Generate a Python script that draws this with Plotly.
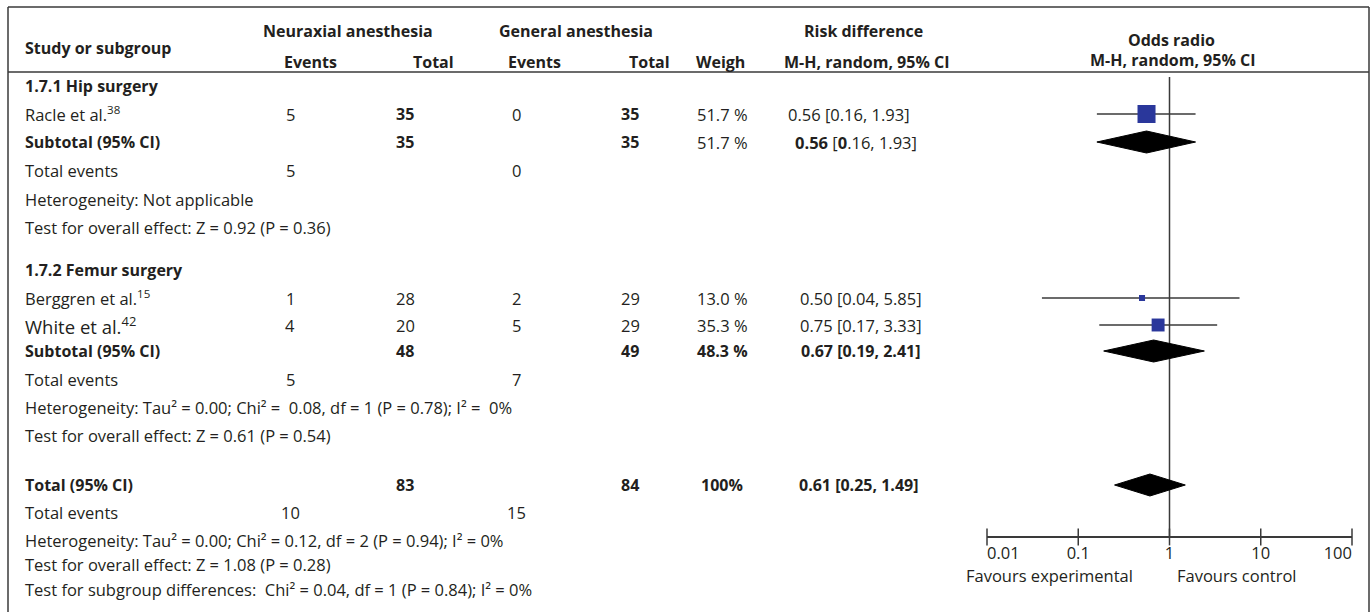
import plotly.graph_objects as go

W, H = 1372, 612
FONT = "Open Sans"
INK = "#231f20"
RULE = "#3a3a3a"

# ---- study-level data ----
study_names = ["Racle et al.<sup>38</sup>", "Berggren et al.<sup>15</sup>", "White et al.<sup>42</sup>"]
study_group = ["hip", "femur", "femur"]
neur_events = [5, 1, 4]
neur_total = [35, 28, 20]
gen_events = [0, 2, 5]
gen_total = [35, 29, 29]
weights = [51.7, 13.0, 35.3]
or_est = [0.56, 0.50, 0.75]
or_lo = [0.16, 0.04, 0.17]
or_hi = [1.93, 5.85, 3.33]

# ---- pooled estimates (hip subtotal, femur subtotal, overall) ----
pooled_names = ["Subtotal (95% CI)", "Subtotal (95% CI)", "Total (95% CI)"]
pooled_neur_total = [35, 48, 83]
pooled_gen_total = [35, 49, 84]
pooled_weight = ["51.7 %", "48.3 %", "100%"]
pooled_est = [0.56, 0.67, 0.61]
pooled_lo = [0.16, 0.19, 0.25]
pooled_hi = [1.93, 2.41, 1.49]
pooled_neur_events = [5, 5, 10]
pooled_gen_events = [0, 7, 15]

heterogeneity = [
    "Heterogeneity: Not applicable",
    "Heterogeneity: Tau² = 0.00; Chi² =  0.08, df = 1 (P = 0.78); I² =  0%",
    "Heterogeneity: Tau² = 0.00; Chi² = 0.12, df = 2 (P = 0.94); I² = 0%",
]
overall_effect = [
    "Test for overall effect: Z = 0.92 (P = 0.36)",
    "Test for overall effect: Z = 0.61 (P = 0.54)",
    "Test for overall effect: Z = 1.08 (P = 0.28)",
]
subgroup_test = "Test for subgroup differences:  Chi² = 0.04, df = 1 (P = 0.84); I² = 0%"

axis_ticks = [0.01, 0.1, 1, 10, 100]
axis_ticklabels = ["0.01", "0.1", "1", "10", "100"]

# ---- layout: row centres (px from top) and column centres (px from left) ----
ROW = {
    "hip_head": 86, "racle": 114, "hip_sub": 142, "hip_ev": 170, "hip_het": 199, "hip_test": 227,
    "fem_head": 270, "berg": 298, "white": 325, "fem_sub": 351, "fem_ev": 379, "fem_het": 407,
    "fem_test": 435, "tot": 485, "tot_ev": 512, "tot_het": 540, "tot_test": 564, "sub_test": 589,
}
study_rows = ["racle", "berg", "white"]
pooled_rows = ["hip_sub", "fem_sub", "tot"]
events_rows = ["hip_ev", "fem_ev", "tot_ev"]
het_rows = ["hip_het", "fem_het", "tot_het"]
test_rows = ["hip_test", "fem_test", "tot_test"]

X_LEFT = 23
X_NE, X_NT, X_GE, X_GT, X_W = 290, 405, 516, 630, 722
study_ci_x = [849, 861, 861]
pooled_ci_x = [856, 861, 859]
study_font = [16.5, 16.5, 18.5]
AXIS_Y = 537
TICKLABEL_Y = 555
SIZE = 16.5
BSIZE = 16

annotations = []


def txt(s, x, y, anchor="center", size=None, bold=False):
    if size is None:
        size = BSIZE if bold else SIZE
    if bold:
        s = f"<b>{s}</b>"
    annotations.append(dict(
        text=s, x=x, y=y, xref="x", yref="y", xanchor=anchor, yanchor="middle",
        showarrow=False, font=dict(family=FONT, size=size, color=INK),
    ))


def ci_text(e, lo, hi):
    return f"{e:.2f} [{lo:.2f}, {hi:.2f}]"


# header
txt("Study or subgroup", X_LEFT, 48, "left", bold=True)
txt("Neuraxial anesthesia", 348, 31, bold=True)
txt("Events", 310, 62, bold=True)
txt("Total", 433, 62, bold=True)
txt("General anesthesia", 576, 31, bold=True)
txt("Events", 534, 62, bold=True)
txt("Total", 649, 62, bold=True)
txt("Weigh", 720, 62, bold=True)
txt("Risk difference", 863, 31, bold=True)
txt("M-H, random, 95% CI", 866, 62, bold=True)
txt("Odds radio", 1171, 40, bold=True)
txt("M-H, random, 95% CI", 1172, 60, bold=True)

# subgroup headings
txt("1.7.1 Hip surgery", X_LEFT, ROW["hip_head"], "left", bold=True)
txt("1.7.2 Femur surgery", X_LEFT, ROW["fem_head"], "left", bold=True)

# individual studies
for i, r in enumerate(study_rows):
    y = ROW[r]
    hip = study_group[i] == "hip"
    txt(study_names[i], X_LEFT, y, "left", size=study_font[i])
    txt(str(neur_events[i]), X_NE, y)
    txt(str(neur_total[i]), X_NT, y, bold=hip)
    txt(str(gen_events[i]), X_GE, y)
    txt(str(gen_total[i]), X_GT, y, bold=hip)
    txt(f"{weights[i]:.1f} %", X_W, y)
    txt(ci_text(or_est[i], or_lo[i], or_hi[i]), study_ci_x[i], y)

# pooled rows
for i, r in enumerate(pooled_rows):
    y = ROW[r]
    txt(pooled_names[i], X_LEFT, y, "left", bold=True)
    txt(str(pooled_neur_total[i]), X_NT, y, bold=True)
    txt(str(pooled_gen_total[i]), X_GT, y, bold=True)
    txt(pooled_weight[i], X_W, y, bold=(i > 0))
    if i == 0:
        lo = f"{pooled_lo[i]:.2f}"
        s = (f"<b>{pooled_est[i]:.2f}</b> [<b>{lo[0]}</b>{lo[1:]}, {pooled_hi[i]:.2f}]")
        txt(s, pooled_ci_x[i], y)
    else:
        txt(ci_text(pooled_est[i], pooled_lo[i], pooled_hi[i]), pooled_ci_x[i], y, bold=True)

for i, r in enumerate(events_rows):
    y = ROW[r]
    txt("Total events", X_LEFT, y, "left")
    txt(str(pooled_neur_events[i]), X_NE, y)
    txt(str(pooled_gen_events[i]), X_GE, y)

for i, r in enumerate(het_rows):
    txt(heterogeneity[i], X_LEFT, ROW[r], "left")
for i, r in enumerate(test_rows):
    txt(overall_effect[i], X_LEFT, ROW[r], "left")
txt(subgroup_test, X_LEFT, ROW["sub_test"], "left")

fig = go.Figure()

# line of no effect
fig.add_trace(go.Scatter(
    x=[1, 1], y=[77, AXIS_Y], xaxis="x2", yaxis="y", mode="lines",
    line=dict(color=RULE, width=1.5), hoverinfo="skip", showlegend=False,
))

# study confidence intervals and weighted squares
for i, r in enumerate(study_rows):
    y = ROW[r]
    fig.add_trace(go.Scatter(
        x=[or_lo[i], or_hi[i]], y=[y, y], xaxis="x2", yaxis="y", mode="lines",
        line=dict(color=RULE, width=1.5), hoverinfo="skip", showlegend=False,
    ))
    fig.add_trace(go.Scatter(
        x=[or_est[i]], y=[y], xaxis="x2", yaxis="y", mode="markers",
        marker=dict(symbol="square", size=2 + 0.31 * weights[i], color="#2a379b",
                    line=dict(width=0)),
        hoverinfo="skip", showlegend=False,
    ))

# pooled diamonds
HALF = 11
for i, r in enumerate(pooled_rows):
    y = ROW[r]
    fig.add_trace(go.Scatter(
        x=[pooled_lo[i], pooled_est[i], pooled_hi[i], pooled_est[i], pooled_lo[i]],
        y=[y, y - HALF, y, y + HALF, y], xaxis="x2", yaxis="y", mode="lines",
        fill="toself", fillcolor="#000000", line=dict(color="#000000", width=1),
        hoverinfo="skip", showlegend=False,
    ))

# tick marks crossing the scale line
fig.add_trace(go.Scatter(
    x=axis_ticks, y=[AXIS_Y] * len(axis_ticks), xaxis="x2", yaxis="y", mode="markers",
    marker=dict(symbol="line-ns", size=12, line=dict(color=RULE, width=1.5)),
    hoverinfo="skip", showlegend=False, cliponaxis=False,
))

# tick labels; the end labels are pulled inside the scale
tick_pos = ["middle right"] + ["middle center"] * (len(axis_ticks) - 2) + ["middle left"]
fig.add_trace(go.Scatter(
    x=axis_ticks, y=[TICKLABEL_Y] * len(axis_ticks), xaxis="x2", yaxis="y", mode="text",
    text=axis_ticklabels, textposition=tick_pos,
    textfont=dict(family=FONT, size=SIZE, color=INK),
    hoverinfo="skip", showlegend=False, cliponaxis=False,
))

annotations.append(dict(text="Favours experimental", x=1049, y=575, xref="x", yref="y",
                        showarrow=False, font=dict(family=FONT, size=SIZE, color=INK)))
annotations.append(dict(text="Favours control", x=1237, y=575, xref="x", yref="y",
                        showarrow=False, font=dict(family=FONT, size=SIZE, color=INK)))

# frame and header rule
shapes = []
for x0, y0, x1, y1 in [(8, 7, 1369, 7), (8, 72, 1369, 72), (8, 7, 8, H), (1369, 7, 1369, H)]:
    shapes.append(dict(type="line", xref="x", yref="y", x0=x0, y0=y0, x1=x1, y1=y1,
                       line=dict(color=RULE, width=1.5)))

fig.update_layout(
    width=W, height=H, margin=dict(l=0, r=0, t=0, b=0, autoexpand=False),
    paper_bgcolor="white", plot_bgcolor="rgba(0,0,0,0)",
    xaxis=dict(range=[0, W], domain=[0, 1], visible=False, fixedrange=True, automargin=False),
    yaxis=dict(range=[H, 0], domain=[0, 1], visible=False, fixedrange=True, automargin=False),
    xaxis2=dict(
        type="log", range=[-2, 2], domain=[987 / W, 1352 / W], anchor="free",
        position=(H - AXIS_Y) / H, showline=True, linecolor=RULE, linewidth=1.5,
        showgrid=False, zeroline=False, ticks="", showticklabels=False,
        automargin=False, fixedrange=True,
    ),
    annotations=annotations, shapes=shapes, showlegend=False,
)

fig.write_html("out.html")
